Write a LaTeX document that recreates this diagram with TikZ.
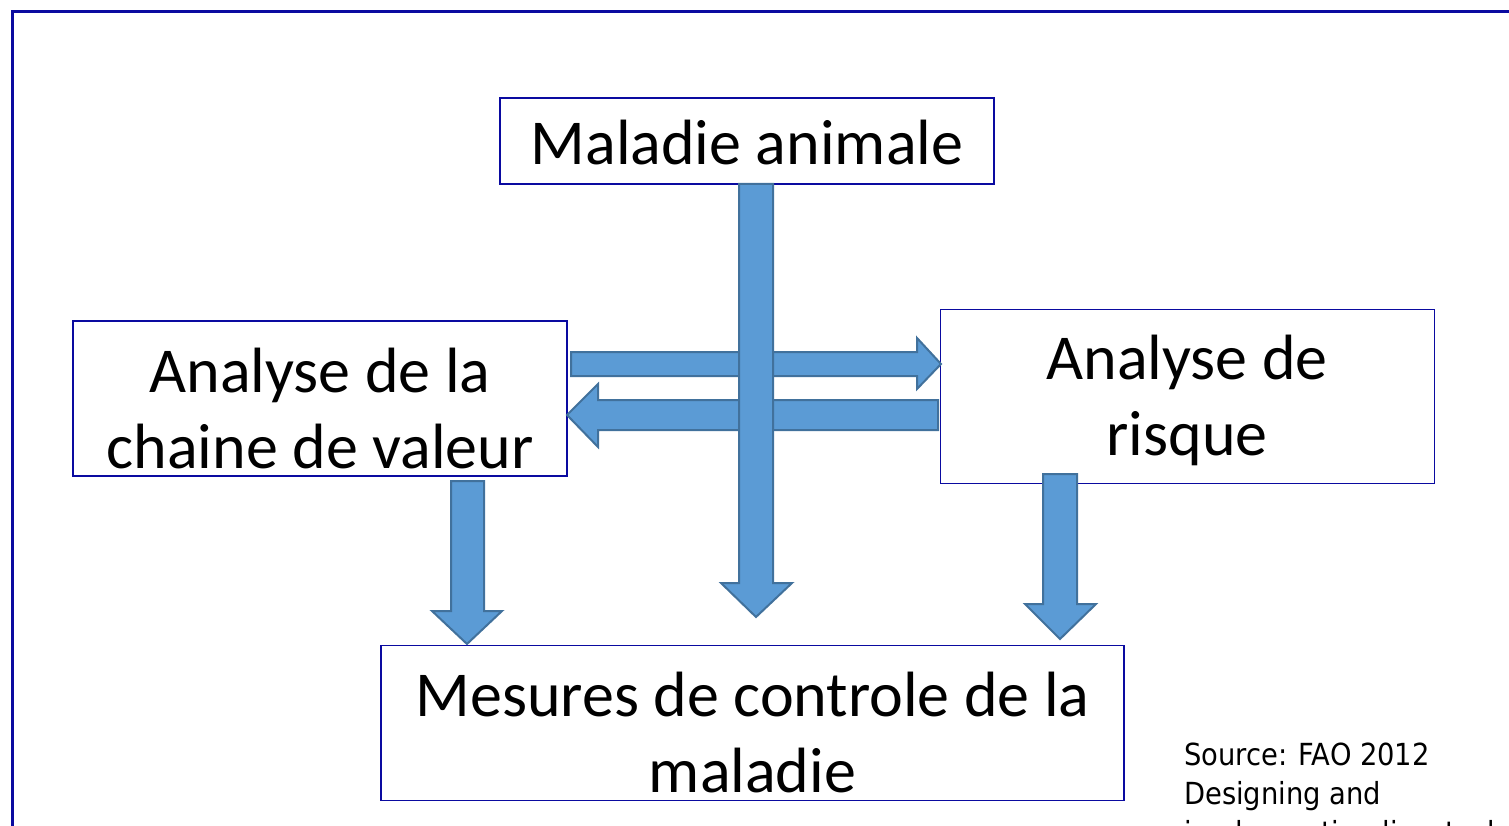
\documentclass[tikz,border=0pt]{standalone}
\usepackage{fontspec}
\setmainfont{Carlito}
\newfontfamily\srcfont{DejaVu Sans Condensed}
\definecolor{boxblue}{HTML}{0A0AA0}
\definecolor{arrfill}{HTML}{5B9BD5}
\definecolor{arrline}{HTML}{41719C}
\tikzset{
  box/.style={draw=boxblue, line width=1.8pt, rectangle, inner sep=0pt},
  lbl/.style={anchor=base, align=center, inner sep=0pt, font=\fontsize{64}{76}\selectfont},
  barrow/.style={fill=arrfill, draw=arrline, line width=2pt, line join=miter},
}
\begin{document}
\begin{tikzpicture}[x=1pt,y=-1pt]
\useasboundingbox (0,0) rectangle (1509,826);
\clip (0,0) rectangle (1509,826);
% outer frame
\draw[boxblue, line width=3pt] (12.5,840) -- (12.5,12) -- (1520,12);

% boxes
\node[box, minimum width=494pt, minimum height=86pt] (mal) at (747,141) {};
\node[box, minimum width=494pt, minimum height=155pt] (cha) at (320,398.5) {};
\node[box, minimum width=494pt, minimum height=174pt] (ris) at (1187.5,396.5) {};
\node[box, minimum width=743pt, minimum height=155pt] (mes) at (752.5,723) {};

% labels
\node[lbl] (tmal) at (747,165) {Maladie animale};
\node[lbl] (tcha) at (320,468) {Analyse de la\\chaine de valeur};
\node[lbl] (tris) at (1187,455) {Analyse de\\risque};
\node[lbl] (tmes) at (752.5,792) {Mesures de controle de la\\maladie};

% horizontal arrows
\coordinate (h1s) at (571,364);
\coordinate (h1t) at (941,364);
\draw[barrow] (571,352) -- (917,352) -- (917,338) -- (h1t) -- (917,389) -- (917,376) -- (571,376) -- cycle;
\coordinate (h2s) at (938,415);
\coordinate (h2t) at (567,415);
\draw[barrow] (938,400) -- (598,400) -- (598,384) -- (h2t) -- (598,447) -- (598,430) -- (938,430) -- cycle;

% vertical big arrow from Maladie animale
\coordinate (vt) at (756,617);
\draw[barrow] (739,184) -- (773,184) -- (773,583) -- (792,583) -- (vt) -- (721,583) -- (739,583) -- cycle;

% left down arrow
\coordinate (lt) at (467,644);
\draw[barrow] (451,481) -- (484,481) -- (484,611) -- (502,611) -- (lt) -- (432,611) -- (451,611) -- cycle;

% right down arrow
\coordinate (rt) at (1060,639);
\draw[barrow] (1043,474) -- (1077,474) -- (1077,604) -- (1096,604) -- (rt) -- (1025,604) -- (1043,604) -- cycle;

% source
\node[anchor=base west, align=left, inner sep=0pt, font=\srcfont\fontsize{30.4}{39}\selectfont] (src) at (1184,843)
  {Source: FAO 2012\\Designing and\\implementing livestock};
\end{tikzpicture}
\end{document}
